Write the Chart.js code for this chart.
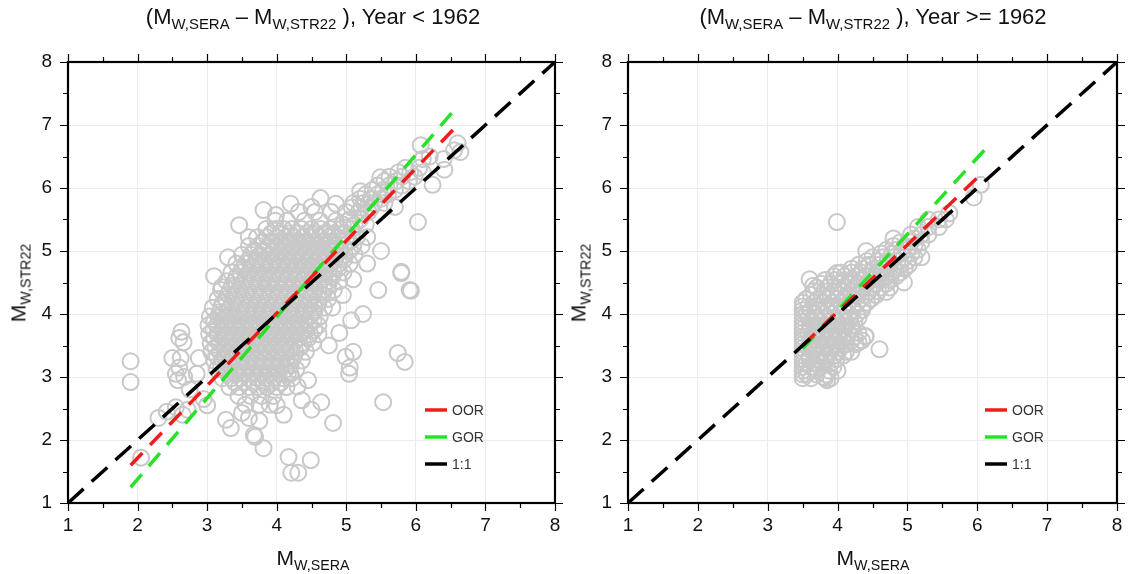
<!DOCTYPE html>
<html>
<head>
<meta charset="utf-8">
<script src="https://cdn.jsdelivr.net/npm/chart.js@4"></script>
<style>
  body { margin: 0; background: #fff; font-family: "Liberation Sans", Arial, sans-serif; }
  #wrap { position: relative; width: 1129px; height: 574px; overflow: hidden; }
  canvas { position: absolute; top: 0; }
  .lbl { position: absolute; white-space: nowrap; color: #111; transform: translateX(-50%); }
  .lbl sub { font-size: 0.68em; vertical-align: -0.35em; }
  .ylab { transform: translate(-50%, -50%) rotate(-90deg); }
</style>
</head>
<body>
<div id="wrap">
  <canvas id="left" width="565" height="574" style="left:0"></canvas>
  <canvas id="right" width="564" height="574" style="left:565px"></canvas>

  <div class="lbl" style="left:313px; top:4px; font-size:22px">(M<sub>W,SERA</sub> – M<sub>W,STR22</sub> ), Year &lt; 1962</div>
  <div class="lbl" style="left:873px; top:4px; font-size:22px">(M<sub>W,SERA</sub> – M<sub>W,STR22</sub> ), Year &gt;= 1962</div>
  <div class="lbl" style="left:313px; top:546px; font-size:21px">M<sub>W,SERA</sub></div>
  <div class="lbl" style="left:873px; top:546px; font-size:21px">M<sub>W,SERA</sub></div>
  <div class="lbl ylab" style="left:20px; top:283px; font-size:21px">M<sub>W,STR22</sub></div>
  <div class="lbl ylab" style="left:580px; top:283px; font-size:21px">M<sub>W,STR22</sub></div>
</div>

<script>
// axis ticks (both panels)
const tickValues = [1, 2, 3, 4, 5, 6, 7, 8];

// Year < 1962 : dense cloud, each row = [y, x, x, x ...]
const oldRows = [
  [5.62, 4.32, 4.55, 4.78],
  [5.48, 3.98, 4.15, 4.4, 4.62, 4.85, 5.02],
  [5.35, 3.85, 3.98, 4.1, 4.22, 4.36, 4.5, 4.63, 4.77, 4.92, 5.08],
  [5.28, 3.92, 4.06, 4.19, 4.31, 4.44, 4.56, 4.68, 4.81, 4.95],
  [5.22, 3.72, 3.86, 4.0, 4.13, 4.25, 4.38, 4.5, 4.62, 4.74, 4.88, 5.0, 5.15, 5.3],
  [5.15, 3.8, 3.94, 4.06, 4.18, 4.3, 4.42, 4.54, 4.66, 4.78, 4.92, 5.05],
  [5.08, 3.6, 3.74, 3.88, 4.0, 4.12, 4.24, 4.36, 4.48, 4.6, 4.72, 4.84, 4.96, 5.1, 5.22],
  [5.01, 3.68, 3.82, 3.95, 4.08, 4.2, 4.32, 4.44, 4.56, 4.68, 4.8, 4.92, 5.05],
  [4.94, 3.5, 3.63, 3.76, 3.9, 4.02, 4.14, 4.26, 4.38, 4.5, 4.62, 4.74, 4.86, 4.98, 5.12],
  [4.87, 3.6, 3.72, 3.85, 3.98, 4.11, 4.23, 4.36, 4.48, 4.6, 4.72, 4.84, 4.97],
  [4.8, 3.42, 3.55, 3.68, 3.8, 3.93, 4.05, 4.17, 4.3, 4.42, 4.54, 4.66, 4.78, 4.9, 5.05],
  [4.73, 3.52, 3.65, 3.78, 3.91, 4.03, 4.15, 4.27, 4.39, 4.51, 4.63, 4.76, 4.89],
  [4.66, 3.35, 3.48, 3.6, 3.72, 3.85, 3.97, 4.09, 4.21, 4.33, 4.45, 4.57, 4.69, 4.82, 4.96],
  [4.59, 3.42, 3.55, 3.68, 3.81, 3.94, 4.06, 4.18, 4.3, 4.42, 4.54, 4.66, 4.8],
  [4.52, 3.28, 3.4, 3.53, 3.65, 3.77, 3.9, 4.02, 4.14, 4.26, 4.38, 4.5, 4.62, 4.75, 4.9],
  [4.45, 3.36, 3.49, 3.62, 3.75, 3.88, 4.0, 4.12, 4.24, 4.36, 4.48, 4.61, 4.74],
  [4.38, 3.2, 3.33, 3.45, 3.58, 3.7, 3.82, 3.94, 4.06, 4.18, 4.3, 4.42, 4.55, 4.68, 4.82],
  [4.31, 3.3, 3.43, 3.56, 3.68, 3.8, 3.92, 4.04, 4.16, 4.28, 4.4, 4.52, 4.66],
  [4.24, 3.15, 3.27, 3.4, 3.52, 3.64, 3.76, 3.88, 4.0, 4.12, 4.24, 4.36, 4.48, 4.6, 4.74],
  [4.17, 3.22, 3.36, 3.5, 3.62, 3.74, 3.86, 3.98, 4.1, 4.22, 4.34, 4.46, 4.6],
  [4.1, 3.08, 3.2, 3.33, 3.45, 3.57, 3.69, 3.81, 3.93, 4.05, 4.17, 4.29, 4.41, 4.54, 4.68],
  [4.03, 3.18, 3.3, 3.44, 3.56, 3.68, 3.8, 3.92, 4.04, 4.16, 4.28, 4.4, 4.54],
  [3.96, 3.04, 3.16, 3.28, 3.4, 3.52, 3.64, 3.76, 3.88, 4.0, 4.12, 4.24, 4.36, 4.48, 4.62],
  [3.89, 3.1, 3.22, 3.34, 3.46, 3.58, 3.7, 3.82, 3.94, 4.06, 4.18, 4.3, 4.42, 4.53],
  [3.82, 3.02, 3.14, 3.26, 3.38, 3.5, 3.62, 3.74, 3.86, 3.98, 4.1, 4.22, 4.34, 4.46, 4.6],
  [3.75, 3.09, 3.21, 3.33, 3.45, 3.57, 3.69, 3.81, 3.93, 4.05, 4.17, 4.29, 4.41, 4.54],
  [3.68, 3.03, 3.15, 3.27, 3.39, 3.51, 3.63, 3.75, 3.87, 3.99, 4.11, 4.23, 4.35, 4.48, 4.6],
  [3.61, 3.1, 3.23, 3.35, 3.47, 3.59, 3.71, 3.83, 3.95, 4.07, 4.19, 4.31, 4.45],
  [3.54, 3.05, 3.17, 3.29, 3.41, 3.53, 3.65, 3.77, 3.89, 4.01, 4.13, 4.25, 4.38, 4.52],
  [3.47, 3.12, 3.24, 3.36, 3.48, 3.6, 3.72, 3.84, 3.96, 4.08, 4.2, 4.34],
  [3.4, 3.06, 3.18, 3.3, 3.42, 3.54, 3.66, 3.78, 3.9, 4.02, 4.14, 4.27, 4.42],
  [3.33, 3.14, 3.26, 3.38, 3.5, 3.62, 3.74, 3.86, 3.98, 4.1, 4.25],
  [3.26, 3.1, 3.22, 3.34, 3.46, 3.58, 3.7, 3.82, 3.94, 4.06, 4.2, 4.36],
  [3.19, 3.2, 3.33, 3.46, 3.58, 3.7, 3.82, 3.94, 4.06, 4.2],
  [3.12, 3.14, 3.27, 3.4, 3.52, 3.64, 3.76, 3.88, 4.0, 4.13, 4.28],
  [3.05, 3.3, 3.42, 3.54, 3.66, 3.78, 3.9, 4.03, 4.16],
  [2.98, 3.22, 3.35, 3.48, 3.6, 3.72, 3.84, 3.96, 4.1, 4.22],
  [2.91, 3.4, 3.53, 3.66, 3.8, 3.93, 4.06],
  [2.84, 3.32, 3.46, 3.6, 3.73, 3.86, 4.0, 4.14],
  [2.7, 3.45, 3.62, 3.78, 3.95],
  [2.56, 3.55, 3.75, 3.9],
  [5.42, 4.95, 5.12, 5.28],
  [5.5, 5.05, 5.2],
  [5.62, 5.0, 5.18, 5.32],
  [5.69, 5.08, 5.22, 5.36],
  [5.76, 5.1, 5.25, 5.4, 5.55],
  [5.83, 5.2, 5.35, 5.5],
  [5.9, 5.28, 5.45, 5.6],
  [5.97, 5.38, 5.53, 5.7],
  [6.04, 5.45, 5.62, 5.8],
  [6.11, 5.55, 5.72, 5.9],
  [6.18, 5.62, 5.8, 5.98],
  [6.25, 5.75, 5.92, 6.1],
  [6.32, 5.85, 6.05],
  [6.46, 6.1, 6.4],
  [6.6, 6.55]
];

// Year < 1962 : scattered points [x, y]
const oldLoose = [
  [1.9, 3.25], [1.9, 2.92], [2.05, 1.72],
  [2.3, 2.35], [2.42, 2.45], [2.55, 2.52], [2.65, 2.4], [2.72, 2.48],
  [2.5, 3.3], [2.6, 3.62], [2.63, 3.72], [2.66, 3.55], [2.62, 3.3], [2.6, 3.15], [2.55, 3.05],
  [2.67, 3.0], [2.58, 2.95], [2.88, 3.3], [2.85, 3.05], [2.75, 2.8], [2.95, 2.65], [3.0, 2.55],
  [3.27, 2.32], [3.34, 2.19], [3.5, 2.43], [3.67, 2.08], [3.69, 2.05], [3.81, 1.87], [3.6, 2.35], [3.75, 2.3],
  [4.17, 1.73], [4.21, 1.48], [4.31, 1.48], [4.49, 1.68],
  [4.0, 2.55], [4.1, 2.4], [4.36, 2.63], [4.64, 2.6], [4.81, 2.27], [4.5, 2.48], [4.3, 2.85], [4.45, 2.95], [4.2, 3.05],
  [5.53, 2.6], [4.99, 3.32], [5.05, 3.15], [5.1, 3.4], [5.04, 3.05], [5.74, 3.38], [5.84, 3.24],
  [4.75, 3.5], [4.9, 3.7], [5.07, 3.9], [5.24, 4.0], [5.46, 4.38], [5.79, 4.65], [5.93, 4.37],
  [4.8, 4.1], [4.95, 4.3], [5.1, 4.55], [5.3, 4.8], [5.5, 5.0],
  [3.46, 5.41], [3.6, 5.22], [3.81, 5.65], [3.99, 5.57], [4.63, 5.84], [3.21, 4.43], [3.1, 4.6], [3.3, 4.9],
  [4.2, 5.75], [4.5, 5.7], [4.85, 5.75],
  [6.07, 6.68], [6.6, 6.71], [6.64, 6.57], [6.41, 6.29], [6.24, 6.05], [6.03, 5.46], [5.79, 4.67], [5.91, 4.38],
  [5.49, 6.17], [5.7, 5.7], [5.2, 5.95], [6.2, 6.5]
];

// Year >= 1962 : dense cloud rows [y, x, x ...]
const newRows = [
  [2.98, 3.5, 3.62, 3.82, 3.9],
  [3.04, 3.5, 3.56, 3.7, 3.84],
  [3.1, 3.5, 3.58, 3.7, 3.88, 4.0],
  [3.16, 3.5, 3.62, 3.76, 3.94],
  [3.22, 3.5, 3.56, 3.66, 3.78, 3.9],
  [3.28, 3.5, 3.6, 3.72, 3.84, 3.98],
  [3.34, 3.5, 3.6, 3.72, 3.84, 3.96, 4.08],
  [3.4, 3.5, 3.64, 3.76, 3.88, 4.0, 4.12],
  [3.46, 3.5, 3.58, 3.68, 3.8, 3.92, 4.04],
  [3.52, 3.5, 3.62, 3.74, 3.86, 3.98, 4.12, 4.26],
  [3.58, 3.5, 3.6, 3.72, 3.84, 3.96, 4.08, 4.2, 4.35],
  [3.64, 3.5, 3.64, 3.76, 3.88, 4.0, 4.12, 4.24, 4.4],
  [3.7, 3.5, 3.58, 3.68, 3.8, 3.92, 4.04, 4.16, 4.3],
  [3.76, 3.5, 3.62, 3.74, 3.86, 3.98, 4.1, 4.22],
  [3.82, 3.5, 3.6, 3.72, 3.84, 3.96, 4.08, 4.2],
  [3.88, 3.5, 3.64, 3.76, 3.88, 4.0, 4.12, 4.24],
  [3.94, 3.5, 3.58, 3.7, 3.82, 3.94, 4.06, 4.18, 4.3],
  [4.0, 3.5, 3.56, 3.68, 3.8, 3.92, 4.04, 4.16, 4.28],
  [4.06, 3.5, 3.62, 3.74, 3.86, 3.98, 4.1, 4.22, 4.35],
  [4.12, 3.5, 3.58, 3.7, 3.84, 3.96, 4.1, 4.22, 4.36],
  [4.18, 3.5, 3.66, 3.8, 3.92, 4.04, 4.16, 4.28, 4.42],
  [4.24, 3.55, 3.72, 3.86, 3.98, 4.1, 4.22, 4.34, 4.48],
  [4.3, 3.62, 3.78, 3.9, 4.02, 4.14, 4.26, 4.4, 4.55],
  [4.36, 3.66, 3.8, 3.94, 4.06, 4.2, 4.32, 4.45, 4.58],
  [4.42, 3.7, 3.86, 4.0, 4.12, 4.25, 4.38, 4.5, 4.62, 4.75],
  [4.48, 3.76, 3.9, 4.04, 4.16, 4.3, 4.42, 4.56, 4.7],
  [4.54, 3.82, 3.96, 4.1, 4.22, 4.35, 4.48, 4.62, 4.76],
  [4.6, 3.95, 4.1, 4.26, 4.4, 4.55, 4.7, 4.84],
  [4.66, 4.05, 4.2, 4.34, 4.48, 4.62, 4.78, 4.9],
  [4.72, 4.2, 4.36, 4.52, 4.68, 4.82, 4.96],
  [4.78, 4.3, 4.45, 4.6, 4.75, 4.9, 5.02],
  [4.84, 4.42, 4.58, 4.72, 4.86, 5.0],
  [4.9, 4.5, 4.65, 4.8, 4.95, 5.1],
  [4.96, 4.62, 4.78, 4.92, 5.06],
  [5.02, 4.7, 4.85, 5.0, 5.15],
  [5.08, 4.8, 4.96, 5.1],
  [5.14, 4.9, 5.05, 5.2],
  [5.26, 5.05, 5.2, 5.3],
  [5.38, 5.15, 5.3, 5.45],
  [5.5, 5.3, 5.45, 5.55]
];

const newLoose = [
  [5.6, 5.6], [5.95, 5.85], [6.05, 6.05], [3.99, 5.46], [4.41, 5.0], [3.99, 4.65], [4.6, 3.44],
  [3.6, 4.55], [3.65, 4.45], [4.3, 3.55], [4.4, 3.65], [4.2, 3.4], [3.85, 2.95], [3.8, 3.0],
  [4.7, 4.35], [4.95, 4.5], [5.2, 4.9], [5.1, 5.2], [4.8, 5.2]
];

// fitted lines, [x, y] end points
const oneToOne = [[1, 1], [8, 8]];
const oldOOR = [[1.9, 1.6], [6.6, 7.0]];
const oldGOR = [[1.9, 1.25], [6.6, 7.3]];
const newOOR = [[3.5, 3.5], [6.1, 6.27]];
const newGOR = [[3.5, 3.45], [6.1, 6.6]];

const legendItems = [['OOR', 'rgb(240,28,28)'], ['GOR', 'rgb(40,225,40)'], ['1:1', '#000']];

function toPoints(rows, loose) {
  const pts = [];
  rows.forEach(r => r.slice(1).forEach(x => pts.push({ x: x, y: r[0] })));
  loose.forEach(p => pts.push({ x: p[0], y: p[1] }));
  return pts;
}
const asXY = arr => arr.map(p => ({ x: p[0], y: p[1] }));

// frame, half-unit ticks on all sides and the legend inside the plot
const framePlugin = {
  id: 'frame',
  afterDraw(chart) {
    const c = chart.ctx, a = chart.chartArea;
    const sx = chart.scales.x, sy = chart.scales.y;
    c.save();
    c.strokeStyle = '#000';
    c.lineWidth = 1.2;
    for (let v = 1; v <= 8; v += 0.5) {
      const len = v % 1 === 0 ? 8 : 5;
      const px = Math.round(sx.getPixelForValue(v)) + 0.5;
      const py = Math.round(sy.getPixelForValue(v)) + 0.5;
      c.beginPath();
      c.moveTo(px, a.bottom); c.lineTo(px, a.bottom + len);
      c.moveTo(px, a.top); c.lineTo(px, a.top - len);
      c.moveTo(a.left, py); c.lineTo(a.left - len, py);
      c.moveTo(a.right, py); c.lineTo(a.right + len, py);
      c.stroke();
    }
    c.lineWidth = 2.2;
    c.strokeRect(a.left, a.top, a.right - a.left, a.bottom - a.top);

    const lx = a.left + 357;
    c.font = '14px "Liberation Sans", Arial, sans-serif';
    c.textBaseline = 'middle';
    legendItems.forEach((it, i) => {
      const ly = 410 + i * 27;
      c.strokeStyle = it[1];
      c.lineWidth = 3.5;
      c.beginPath();
      c.moveTo(lx, ly); c.lineTo(lx + 22, ly);
      c.stroke();
      c.fillStyle = '#333';
      c.fillText(it[0], lx + 27, ly + 1);
    });
    c.restore();
  }
};

function makeChart(id, points, oor, gor, padRight, yWidth) {
  const lineSet = (data, color, dash, order) => ({
    type: 'line', data: asXY(data), borderColor: color, borderWidth: 3.5,
    borderDash: dash, pointRadius: 0, fill: false, order: order
  });
  const tickFont = { family: '"Liberation Sans", Arial, sans-serif', size: 19 };
  new Chart(document.getElementById(id), {
    type: 'scatter',
    data: {
      datasets: [
        { data: points, pointRadius: 8, borderWidth: 2, borderColor: 'rgb(200,200,200)',
          backgroundColor: 'rgba(0,0,0,0)', order: 10 },
        lineSet(gor, 'rgb(40,225,40)', [17, 11], 3),
        lineSet(oor, 'rgb(240,28,28)', [17, 11], 2),
        lineSet(oneToOne, '#000', [21, 11], 1)
      ]
    },
    options: {
      responsive: false,
      animation: false,
      layout: { padding: { top: 62, right: padRight, left: 0, bottom: 0 } },
      plugins: { legend: { display: false }, tooltip: { enabled: false } },
      scales: {
        x: {
          type: 'linear', min: 1, max: 8,
          afterBuildTicks: s => { s.ticks = tickValues.map(v => ({ value: v })); },
          afterFit: s => { s.height = 71; s.paddingLeft = 0; s.paddingRight = 0; },
          ticks: { color: '#111', font: tickFont, padding: 11, maxRotation: 0 },
          grid: { color: '#ebebeb', drawTicks: false },
          border: { display: false }
        },
        y: {
          type: 'linear', min: 1, max: 8,
          afterBuildTicks: s => { s.ticks = tickValues.map(v => ({ value: v })); },
          afterFit: s => { s.width = yWidth; s.paddingTop = 0; s.paddingBottom = 0; },
          ticks: { color: '#111', font: tickFont, padding: 16 },
          grid: { color: '#ebebeb', drawTicks: false },
          border: { display: false }
        }
      }
    },
    plugins: [framePlugin]
  });
}

makeChart('left', toPoints(oldRows, oldLoose), oldOOR, oldGOR, 7, 68);
makeChart('right', toPoints(newRows, newLoose), newOOR, newGOR, 12, 63);
</script>
</body>
</html>
